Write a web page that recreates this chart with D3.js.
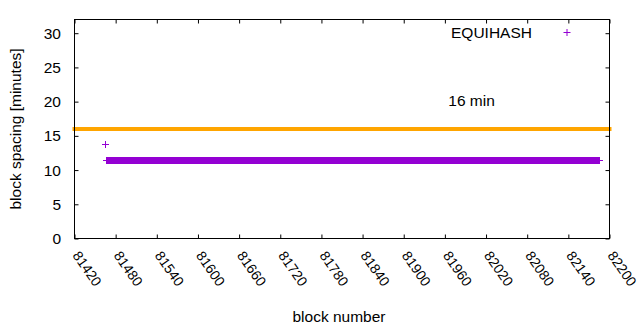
<!DOCTYPE html>
<html>
<head>
<meta charset="utf-8">
<script src="https://d3js.org/d3.v7.min.js"></script>
<style>
    body { margin: 0; background: #fff; }
    text { font-family: "Liberation Sans", Arial, sans-serif; font-size: 15.5px; fill: #000; }
</style>
</head>
<body>
<div id="chart-area"></div>
<script>
/*
*    block spacing chart
*/

// x ticks and y ticks
var xTicks = [81420, 81480, 81540, 81600, 81660, 81720, 81780, 81840, 81900, 81960, 82020, 82080, 82140, 82200];
var yTicks = [0, 5, 10, 15, 20, 25, 30];

// EQUIHASH series: block number -> spacing in minutes (one point per block)
var blocks = [81465].concat(d3.range(81466, 82187));
var spacing = [13.7,
    11.35, 11.35, 11.35, 11.35, 11.35, 11.35, 11.35, 11.35, 11.35, 11.35, 11.35, 11.35, 11.35, 11.35, 11.35, 11.35, 11.35, 11.35, 11.35, 11.35,
    11.35, 11.35, 11.35, 11.35, 11.35, 11.35, 11.35, 11.35, 11.35, 11.35, 11.35, 11.35, 11.35, 11.35, 11.35, 11.35, 11.35, 11.35, 11.35, 11.35,
    11.35, 11.35, 11.35, 11.35, 11.35, 11.35, 11.35, 11.35, 11.35, 11.35, 11.35, 11.35, 11.35, 11.35, 11.35, 11.35, 11.35, 11.35, 11.35, 11.35,
    11.35, 11.35, 11.35, 11.35, 11.35, 11.35, 11.35, 11.35, 11.35, 11.35, 11.35, 11.35, 11.35, 11.35, 11.35, 11.35, 11.35, 11.35, 11.35, 11.35,
    11.35, 11.35, 11.35, 11.35, 11.35, 11.35, 11.35, 11.35, 11.35, 11.35, 11.35, 11.35, 11.35, 11.35, 11.35, 11.35, 11.35, 11.35, 11.35, 11.35,
    11.35, 11.35, 11.35, 11.35, 11.35, 11.35, 11.35, 11.35, 11.35, 11.35, 11.35, 11.35, 11.35, 11.35, 11.35, 11.35, 11.35, 11.35, 11.35, 11.35,
    11.35, 11.35, 11.35, 11.35, 11.35, 11.35, 11.35, 11.35, 11.35, 11.35, 11.35, 11.35, 11.35, 11.35, 11.35, 11.35, 11.35, 11.35, 11.35, 11.35,
    11.35, 11.35, 11.35, 11.35, 11.35, 11.35, 11.35, 11.35, 11.35, 11.35, 11.35, 11.35, 11.35, 11.35, 11.35, 11.35, 11.35, 11.35, 11.35, 11.35,
    11.35, 11.35, 11.35, 11.35, 11.35, 11.35, 11.35, 11.35, 11.35, 11.35, 11.35, 11.35, 11.35, 11.35, 11.35, 11.35, 11.35, 11.35, 11.35, 11.35,
    11.35, 11.35, 11.35, 11.35, 11.35, 11.35, 11.35, 11.35, 11.35, 11.35, 11.35, 11.35, 11.35, 11.35, 11.35, 11.35, 11.35, 11.35, 11.35, 11.35,
    11.35, 11.35, 11.35, 11.35, 11.35, 11.35, 11.35, 11.35, 11.35, 11.35, 11.35, 11.35, 11.35, 11.35, 11.35, 11.35, 11.35, 11.35, 11.35, 11.35,
    11.35, 11.35, 11.35, 11.35, 11.35, 11.35, 11.35, 11.35, 11.35, 11.35, 11.35, 11.35, 11.35, 11.35, 11.35, 11.35, 11.35, 11.35, 11.35, 11.35,
    11.35, 11.35, 11.35, 11.35, 11.35, 11.35, 11.35, 11.35, 11.35, 11.35, 11.35, 11.35, 11.35, 11.35, 11.35, 11.35, 11.35, 11.35, 11.35, 11.35,
    11.35, 11.35, 11.35, 11.35, 11.35, 11.35, 11.35, 11.35, 11.35, 11.35, 11.35, 11.35, 11.35, 11.35, 11.35, 11.35, 11.35, 11.35, 11.35, 11.35,
    11.35, 11.35, 11.35, 11.35, 11.35, 11.35, 11.35, 11.35, 11.35, 11.35, 11.35, 11.35, 11.35, 11.35, 11.35, 11.35, 11.35, 11.35, 11.35, 11.35,
    11.35, 11.35, 11.35, 11.35, 11.35, 11.35, 11.35, 11.35, 11.35, 11.35, 11.35, 11.35, 11.35, 11.35, 11.35, 11.35, 11.35, 11.35, 11.35, 11.35,
    11.35, 11.35, 11.35, 11.35, 11.35, 11.35, 11.35, 11.35, 11.35, 11.35, 11.35, 11.35, 11.35, 11.35, 11.35, 11.35, 11.35, 11.35, 11.35, 11.35,
    11.35, 11.35, 11.35, 11.35, 11.35, 11.35, 11.35, 11.35, 11.35, 11.35, 11.35, 11.35, 11.35, 11.35, 11.35, 11.35, 11.35, 11.35, 11.35, 11.35,
    11.35, 11.35, 11.35, 11.35, 11.35, 11.35, 11.35, 11.35, 11.35, 11.35, 11.35, 11.35, 11.35, 11.35, 11.35, 11.35, 11.35, 11.35, 11.35, 11.35,
    11.35, 11.35, 11.35, 11.35, 11.35, 11.35, 11.35, 11.35, 11.35, 11.35, 11.35, 11.35, 11.35, 11.35, 11.35, 11.35, 11.35, 11.35, 11.35, 11.35,
    11.35, 11.35, 11.35, 11.35, 11.35, 11.35, 11.35, 11.35, 11.35, 11.35, 11.35, 11.35, 11.35, 11.35, 11.35, 11.35, 11.35, 11.35, 11.35, 11.35,
    11.35, 11.35, 11.35, 11.35, 11.35, 11.35, 11.35, 11.35, 11.35, 11.35, 11.35, 11.35, 11.35, 11.35, 11.35, 11.35, 11.35, 11.35, 11.35, 11.35,
    11.35, 11.35, 11.35, 11.35, 11.35, 11.35, 11.35, 11.35, 11.35, 11.35, 11.35, 11.35, 11.35, 11.35, 11.35, 11.35, 11.35, 11.35, 11.35, 11.35,
    11.35, 11.35, 11.35, 11.35, 11.35, 11.35, 11.35, 11.35, 11.35, 11.35, 11.35, 11.35, 11.35, 11.35, 11.35, 11.35, 11.35, 11.35, 11.35, 11.35,
    11.35, 11.35, 11.35, 11.35, 11.35, 11.35, 11.35, 11.35, 11.35, 11.35, 11.35, 11.35, 11.35, 11.35, 11.35, 11.35, 11.35, 11.35, 11.35, 11.35,
    11.35, 11.35, 11.35, 11.35, 11.35, 11.35, 11.35, 11.35, 11.35, 11.35, 11.35, 11.35, 11.35, 11.35, 11.35, 11.35, 11.35, 11.35, 11.35, 11.35,
    11.35, 11.35, 11.35, 11.35, 11.35, 11.35, 11.35, 11.35, 11.35, 11.35, 11.35, 11.35, 11.35, 11.35, 11.35, 11.35, 11.35, 11.35, 11.35, 11.35,
    11.35, 11.35, 11.35, 11.35, 11.35, 11.35, 11.35, 11.35, 11.35, 11.35, 11.35, 11.35, 11.35, 11.35, 11.35, 11.35, 11.35, 11.35, 11.35, 11.35,
    11.35, 11.35, 11.35, 11.35, 11.35, 11.35, 11.35, 11.35, 11.35, 11.35, 11.35, 11.35, 11.35, 11.35, 11.35, 11.35, 11.35, 11.35, 11.35, 11.35,
    11.35, 11.35, 11.35, 11.35, 11.35, 11.35, 11.35, 11.35, 11.35, 11.35, 11.35, 11.35, 11.35, 11.35, 11.35, 11.35, 11.35, 11.35, 11.35, 11.35,
    11.35, 11.35, 11.35, 11.35, 11.35, 11.35, 11.35, 11.35, 11.35, 11.35, 11.35, 11.35, 11.35, 11.35, 11.35, 11.35, 11.35, 11.35, 11.35, 11.35,
    11.35, 11.35, 11.35, 11.35, 11.35, 11.35, 11.35, 11.35, 11.35, 11.35, 11.35, 11.35, 11.35, 11.35, 11.35, 11.35, 11.35, 11.35, 11.35, 11.35,
    11.35, 11.35, 11.35, 11.35, 11.35, 11.35, 11.35, 11.35, 11.35, 11.35, 11.35, 11.35, 11.35, 11.35, 11.35, 11.35, 11.35, 11.35, 11.35, 11.35,
    11.35, 11.35, 11.35, 11.35, 11.35, 11.35, 11.35, 11.35, 11.35, 11.35, 11.35, 11.35, 11.35, 11.35, 11.35, 11.35, 11.35, 11.35, 11.35, 11.35,
    11.35, 11.35, 11.35, 11.35, 11.35, 11.35, 11.35, 11.35, 11.35, 11.35, 11.35, 11.35, 11.35, 11.35, 11.35, 11.35, 11.35, 11.35, 11.35, 11.35,
    11.35, 11.35, 11.35, 11.35, 11.35, 11.35, 11.35, 11.35, 11.35, 11.35, 11.35, 11.35, 11.35, 11.35, 11.35, 11.35, 11.35, 11.35, 11.35, 11.35,
    11.35
];

// reference line
var targetMinutes = 16;
var targetLabel = "16 min";
var targetLabelPos = [81965, 20];
var seriesName = "EQUIHASH";

var svg = d3.select("#chart-area")
    .append("svg")
    .attr("width", 640)
    .attr("height", 330);

var x = d3.scaleLinear()
    .domain([81420, 82200])
    .range([74.5, 609.5]);

var y = d3.scaleLinear()
    .domain([0, 32])
    .range([238.5, 19.5]);

var plus = "M-3.5,0H3.5M0,-3.5V3.5";

// reference line at 16 minutes
svg.append("line")
    .attr("x1", x.range()[0] - 2)
    .attr("x2", x.range()[1] + 2)
    .attr("y1", y(targetMinutes))
    .attr("y2", y(targetMinutes))
    .attr("stroke", "#ffa500")
    .attr("stroke-width", 4);

// points
svg.selectAll("path.pt")
    .data(blocks)
    .enter()
    .append("path")
        .attr("class", "pt")
        .attr("d", plus)
        .attr("transform", (d, i) => {
            return "translate(" + x(d) + "," + y(spacing[i]) + ")";
        })
        .attr("fill", "none")
        .attr("stroke", "#9400d3")
        .attr("stroke-width", 1)
        .attr("shape-rendering", "crispEdges");

// axes, ticks pointing inward on all four sides
var xAxis = svg.append("g")
    .attr("transform", "translate(0," + y.range()[0] + ")")
    .call(d3.axisBottom(x).tickValues(xTicks).tickSizeInner(-4).tickSizeOuter(0).tickFormat(d3.format("d")));
xAxis.selectAll("text")
    .attr("x", 0)
    .attr("y", 0)
    .attr("dy", 0)
    .attr("text-anchor", "start")
    .attr("transform", "translate(-3,17) rotate(55)");

svg.append("g")
    .attr("transform", "translate(0," + y.range()[1] + ")")
    .call(d3.axisTop(x).tickValues(xTicks).tickSizeInner(-4).tickSizeOuter(0).tickFormat(""));

var yAxis = svg.append("g")
    .attr("transform", "translate(" + x.range()[0] + ",0)")
    .call(d3.axisLeft(y).tickValues(yTicks).tickSizeInner(-4).tickSizeOuter(0).tickPadding(13.5));

svg.append("g")
    .attr("transform", "translate(" + x.range()[1] + ",0)")
    .call(d3.axisRight(y).tickValues(yTicks).tickSizeInner(-4).tickSizeOuter(0).tickFormat(""));

svg.selectAll(".domain").remove();
svg.selectAll(".tick line").attr("stroke", "#000");
svg.selectAll(".tick text").style("font-family", "Liberation Sans, Arial, sans-serif");
xAxis.selectAll("text").style("font-size", "14px");
yAxis.selectAll("text").style("font-size", "15.5px");

// frame
svg.append("rect")
    .attr("x", x.range()[0])
    .attr("y", y.range()[1])
    .attr("width", x.range()[1] - x.range()[0])
    .attr("height", y.range()[0] - y.range()[1])
    .attr("fill", "none")
    .attr("stroke", "#000");

// labels
svg.append("text")
    .attr("transform", "translate(20.5," + ((y.range()[0] + y.range()[1]) / 2) + ") rotate(-90)")
    .attr("text-anchor", "middle")
    .text("block spacing [minutes]");

svg.append("text")
    .attr("x", 339)
    .attr("y", 322)
    .attr("text-anchor", "middle")
    .text("block number");

svg.append("text")
    .attr("x", x(targetLabelPos[0]))
    .attr("y", y(targetLabelPos[1]) + 4.5)
    .text(targetLabel);

// key
svg.append("text")
    .attr("x", 532)
    .attr("y", 38)
    .attr("text-anchor", "end")
    .text(seriesName);
svg.append("path")
    .attr("d", plus)
    .attr("transform", "translate(567,32.5)")
    .attr("fill", "none")
    .attr("stroke", "#9400d3")
    .attr("stroke-width", 1);
</script>
</body>
</html>
